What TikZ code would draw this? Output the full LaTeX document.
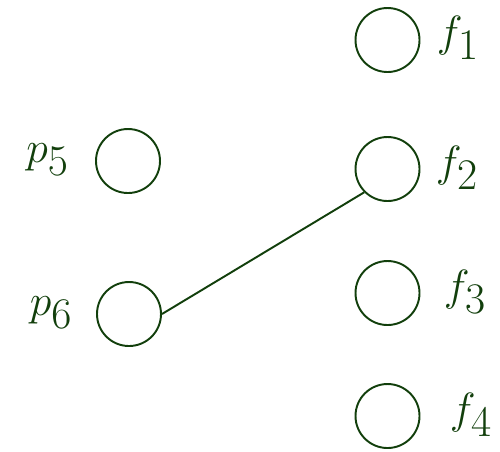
\documentclass[tikz,border=0pt]{standalone}
\usepackage{amsmath,amssymb}
\usepackage{xcolor}
\usepackage{tikz}
\usetikzlibrary{positioning}
\definecolor{darkgreen}{HTML}{123F0C}

\begin{document}
\begin{tikzpicture}[
  dot/.style={draw=darkgreen, circle, line width=1.1pt, minimum size=1.28cm, inner sep=0pt},
  lbl/.style={text=darkgreen, font=\fontsize{33}{38}\selectfont, inner sep=0pt},
  link/.style={draw=darkgreen, line width=1.1pt}
]
\useasboundingbox (0,0) rectangle (10,-9.02);

\node[dot] (p5) at (2.56, -3.22) {};
\node[dot] (p6) at (2.58, -6.28) {};
\node[dot] (f1) at (7.75, -0.80) {};
\node[dot] (f2) at (7.75, -3.38) {};
\node[dot] (f3) at (7.75, -5.86) {};
\node[dot] (f4) at (7.75, -8.32) {};

\node[lbl] (p5l) at (0.95, -3.20) {$p_5$};
\node[lbl] (p6l) at (1.02, -6.26) {$p_6$};
\node[lbl] (f1l) at (9.16, -0.76) {$f_1$};
\node[lbl] (f2l) at (9.14, -3.36) {$f_2$};
\node[lbl] (f3l) at (9.30, -5.84) {$f_3$};
\node[lbl] (f4l) at (9.42, -8.30) {$f_4$};

\draw[link] (p6.east) -- (f2.south west);
\end{tikzpicture}
\end{document}
